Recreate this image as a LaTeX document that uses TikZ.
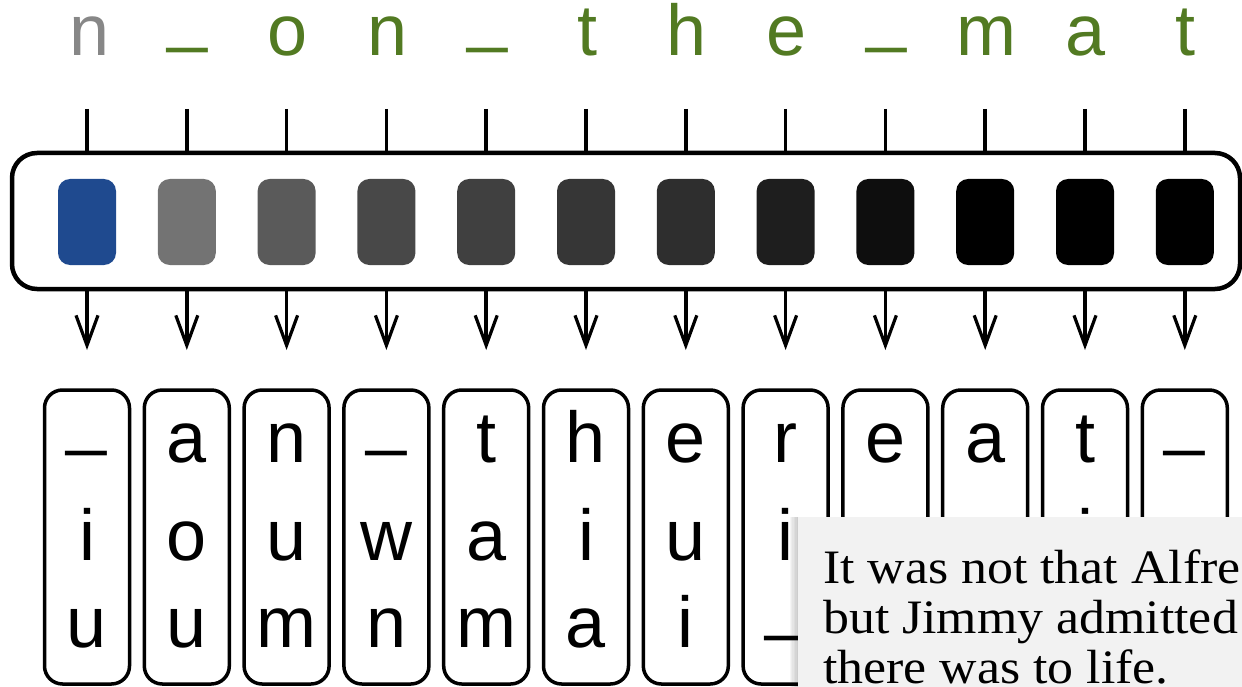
\documentclass[tikz,border=0pt]{standalone}
\usepackage{fontspec}
\setmainfont{Liberation Sans}
\newfontfamily\ovfont[FakeStretch=1.08]{Liberation Serif}
\usetikzlibrary{arrows.meta}
\definecolor{tgreen}{RGB}{82,122,34}
\definecolor{tgray}{RGB}{135,135,135}
\definecolor{sblue}{RGB}{31,74,143}
\definecolor{ovgray}{RGB}{242,242,242}
\newcommand{\us}{\raisebox{21pt}{\_}}
\newcommand{\tus}{\raisebox{17pt}{\_}}
\tikzset{
  letter/.style={font=\fontsize{72}{72}\selectfont, anchor=base, inner sep=0pt},
  ticklink/.style={line width=3.5pt},
  arrlink/.style={line width=3.5pt, -{Straight Barb[length=30pt,width=22pt,line width=3.2pt]}},
  bigbox/.style={draw, line width=4.5pt, rounded corners=25pt, minimum width=1228pt, minimum height=136pt, inner sep=0pt},
  sqbox/.style={rounded corners=12pt, minimum width=58pt, minimum height=86pt, inner sep=0pt},
  cellbox/.style={draw, line width=3.5pt, rounded corners=18pt, minimum width=85pt, minimum height=294pt, inner sep=0pt},
  ovbox/.style={fill=ovgray, inner sep=0pt, anchor=north west, minimum width=460pt, minimum height=180pt},
  ovtext/.style={font=\ovfont\fontsize{48}{50}\selectfont, anchor=base west, inner sep=0pt}
}
\begin{document}
\begin{tikzpicture}[x=1pt,y=-1pt]
\useasboundingbox (0,0) rectangle (1242,687);
\clip (0,0) rectangle (1242,687);
% big box
\node[bigbox] (big) at (626,221) {};
% columns
\foreach \i/\t/\sc in {0/n/sblue, 1/\tus/{rgb,255:red,115;green,115;blue,115}, 2/o/{rgb,255:red,90;green,90;blue,90}, 3/n/{rgb,255:red,72;green,72;blue,72}, 4/\tus/{rgb,255:red,64;green,64;blue,64}, 5/t/{rgb,255:red,54;green,54;blue,54}, 6/h/{rgb,255:red,46;green,46;blue,46}, 7/e/{rgb,255:red,30;green,30;blue,30}, 8/\tus/{rgb,255:red,14;green,14;blue,14}, 9/m/black, 10/a/black, 11/t/black}{
  \pgfmathsetmacro{\xx}{87+99.8*\i}
  \ifnum\i=0
    \node[letter, text=tgray] (top\i) at (\xx+3,56) {\t};
  \else
    \node[letter, text=tgreen] (top\i) at (\xx+1,56) {\t};
  \fi
  \coordinate (tk\i) at (\xx,109);
  \coordinate (ar\i) at (\xx,350);
  \draw[ticklink] (tk\i) -- (tk\i |- big.north);
  \node[sqbox, fill=\sc] (sq\i) at (\xx,222) {};
  \draw[arrlink] (ar\i |- big.south) -- (ar\i);
  \node[cellbox] (cell\i) at (\xx,537) {};
}
% letters in the cells
\foreach \i/\a/\b/\c in {0/\us/i/u, 1/a/o/u, 2/n/u/m, 3/\us/w/n, 4/t/a/m, 5/h/i/a, 6/e/u/i, 7/r/i/\us, 8/e/{}/{}, 9/a/{}/{}, 10/t/i/{}, 11/\us/{}/{}}{
  \pgfmathsetmacro{\xx}{87+99.8*\i}
  \node[letter] (ra\i) at (\xx,462) {\a};
  \node[letter] (rb\i) at (\xx,560) {\b};
  \node[letter] (rc\i) at (\xx,647) {\c};
}
% overlay with shadow
\foreach \k in {1,...,6}{
  \fill[black, opacity=0.035] (798-1.4*\k,517) rectangle (798,687);
}
\node[ovbox] (ov) at (798,517) {};
\node[ovtext] (ov1) at (823,583) {It was not that Alfre};
\node[ovtext] (ov2) at (823,633) {but Jimmy admitted};
\node[ovtext] (ov3) at (823,683) {there was to life.};
\end{tikzpicture}
\end{document}
